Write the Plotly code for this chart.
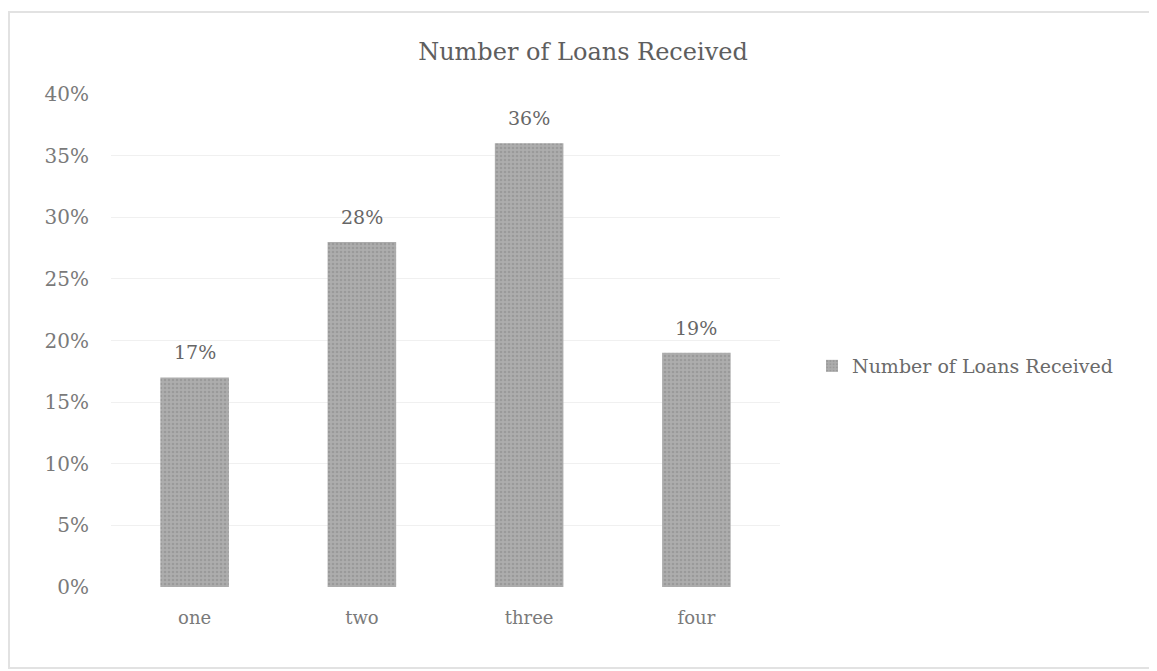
import plotly.graph_objects as go

categories = ["one", "two", "three", "four"]
values = [0.17, 0.28, 0.36, 0.19]
labels = ["17%", "28%", "36%", "19%"]
tick_vals = [0, 0.05, 0.10, 0.15, 0.20, 0.25, 0.30, 0.35, 0.40]
tick_text = ["0%", "5%", "10%", "15%", "20%", "25%", "30%", "35%", "40%"]
series_name = "Number of Loans Received"
title_text = "Number of Loans Received"

font_family = "DejaVu Serif"

# page body has an 8px margin; figure coordinates below are relative to the figure
W, H = 1149, 663
L, R, T, B = 103, 772, 86, 579
pw, ph = R - L, B - T

fig = go.Figure()
fig.add_trace(go.Bar(
    x=categories,
    y=values,
    name=series_name,
    marker=dict(color="#a3a3a3", line=dict(width=0),
                pattern=dict(shape=".", fgcolor="#888888", bgcolor="#adadad", size=4, solidity=0.35)),
    width=0.41,
    showlegend=True,
))

for c, v, t in zip(categories, values, labels):
    fig.add_annotation(x=c, y=v, text=t, showarrow=False, yanchor="bottom", yshift=12,
                       font=dict(family=font_family, size=19, color="#666666"))

fig.update_layout(
    width=W,
    height=H,
    paper_bgcolor="white",
    plot_bgcolor="white",
    margin=dict(l=L, r=W - R, t=T, b=H - B, autoexpand=False),
    title=dict(text=title_text, x=575 / W, xanchor="center", y=1 - 44 / H, yanchor="middle",
               font=dict(family=font_family, size=24, color="#5e5e5e")),
    xaxis=dict(showline=False, ticks="", automargin=False,
               tickfont=dict(family=font_family, size=18, color="#7a7a7a"),
               showgrid=False, ticklabelstandoff=18),
    yaxis=dict(range=[0, 0.40], tickvals=tick_vals, ticktext=tick_text, showline=False, automargin=False,
               tickfont=dict(family=font_family, size=20, color="#7a7a7a"),
               showgrid=True, gridcolor="#f0f0f0", zeroline=False, ticklen=0, ticklabelstandoff=21),
    legend=dict(xref="container", yref="container", x=804 / W, y=1 - 358 / H, xanchor="left", yanchor="middle",
                font=dict(family=font_family, size=19, color="#6a6a6a"), bgcolor="rgba(0,0,0,0)"),
    bargap=0.59,
)

fig.add_shape(type="rect", xref="paper", yref="paper",
              x0=(1 - L) / pw, x1=(1145 - L) / pw, y0=(B - 660) / ph, y1=(B - 4) / ph,
              line=dict(color="#e2e2e2", width=2), fillcolor="rgba(0,0,0,0)", layer="below")

fig.write_html("out.html")
